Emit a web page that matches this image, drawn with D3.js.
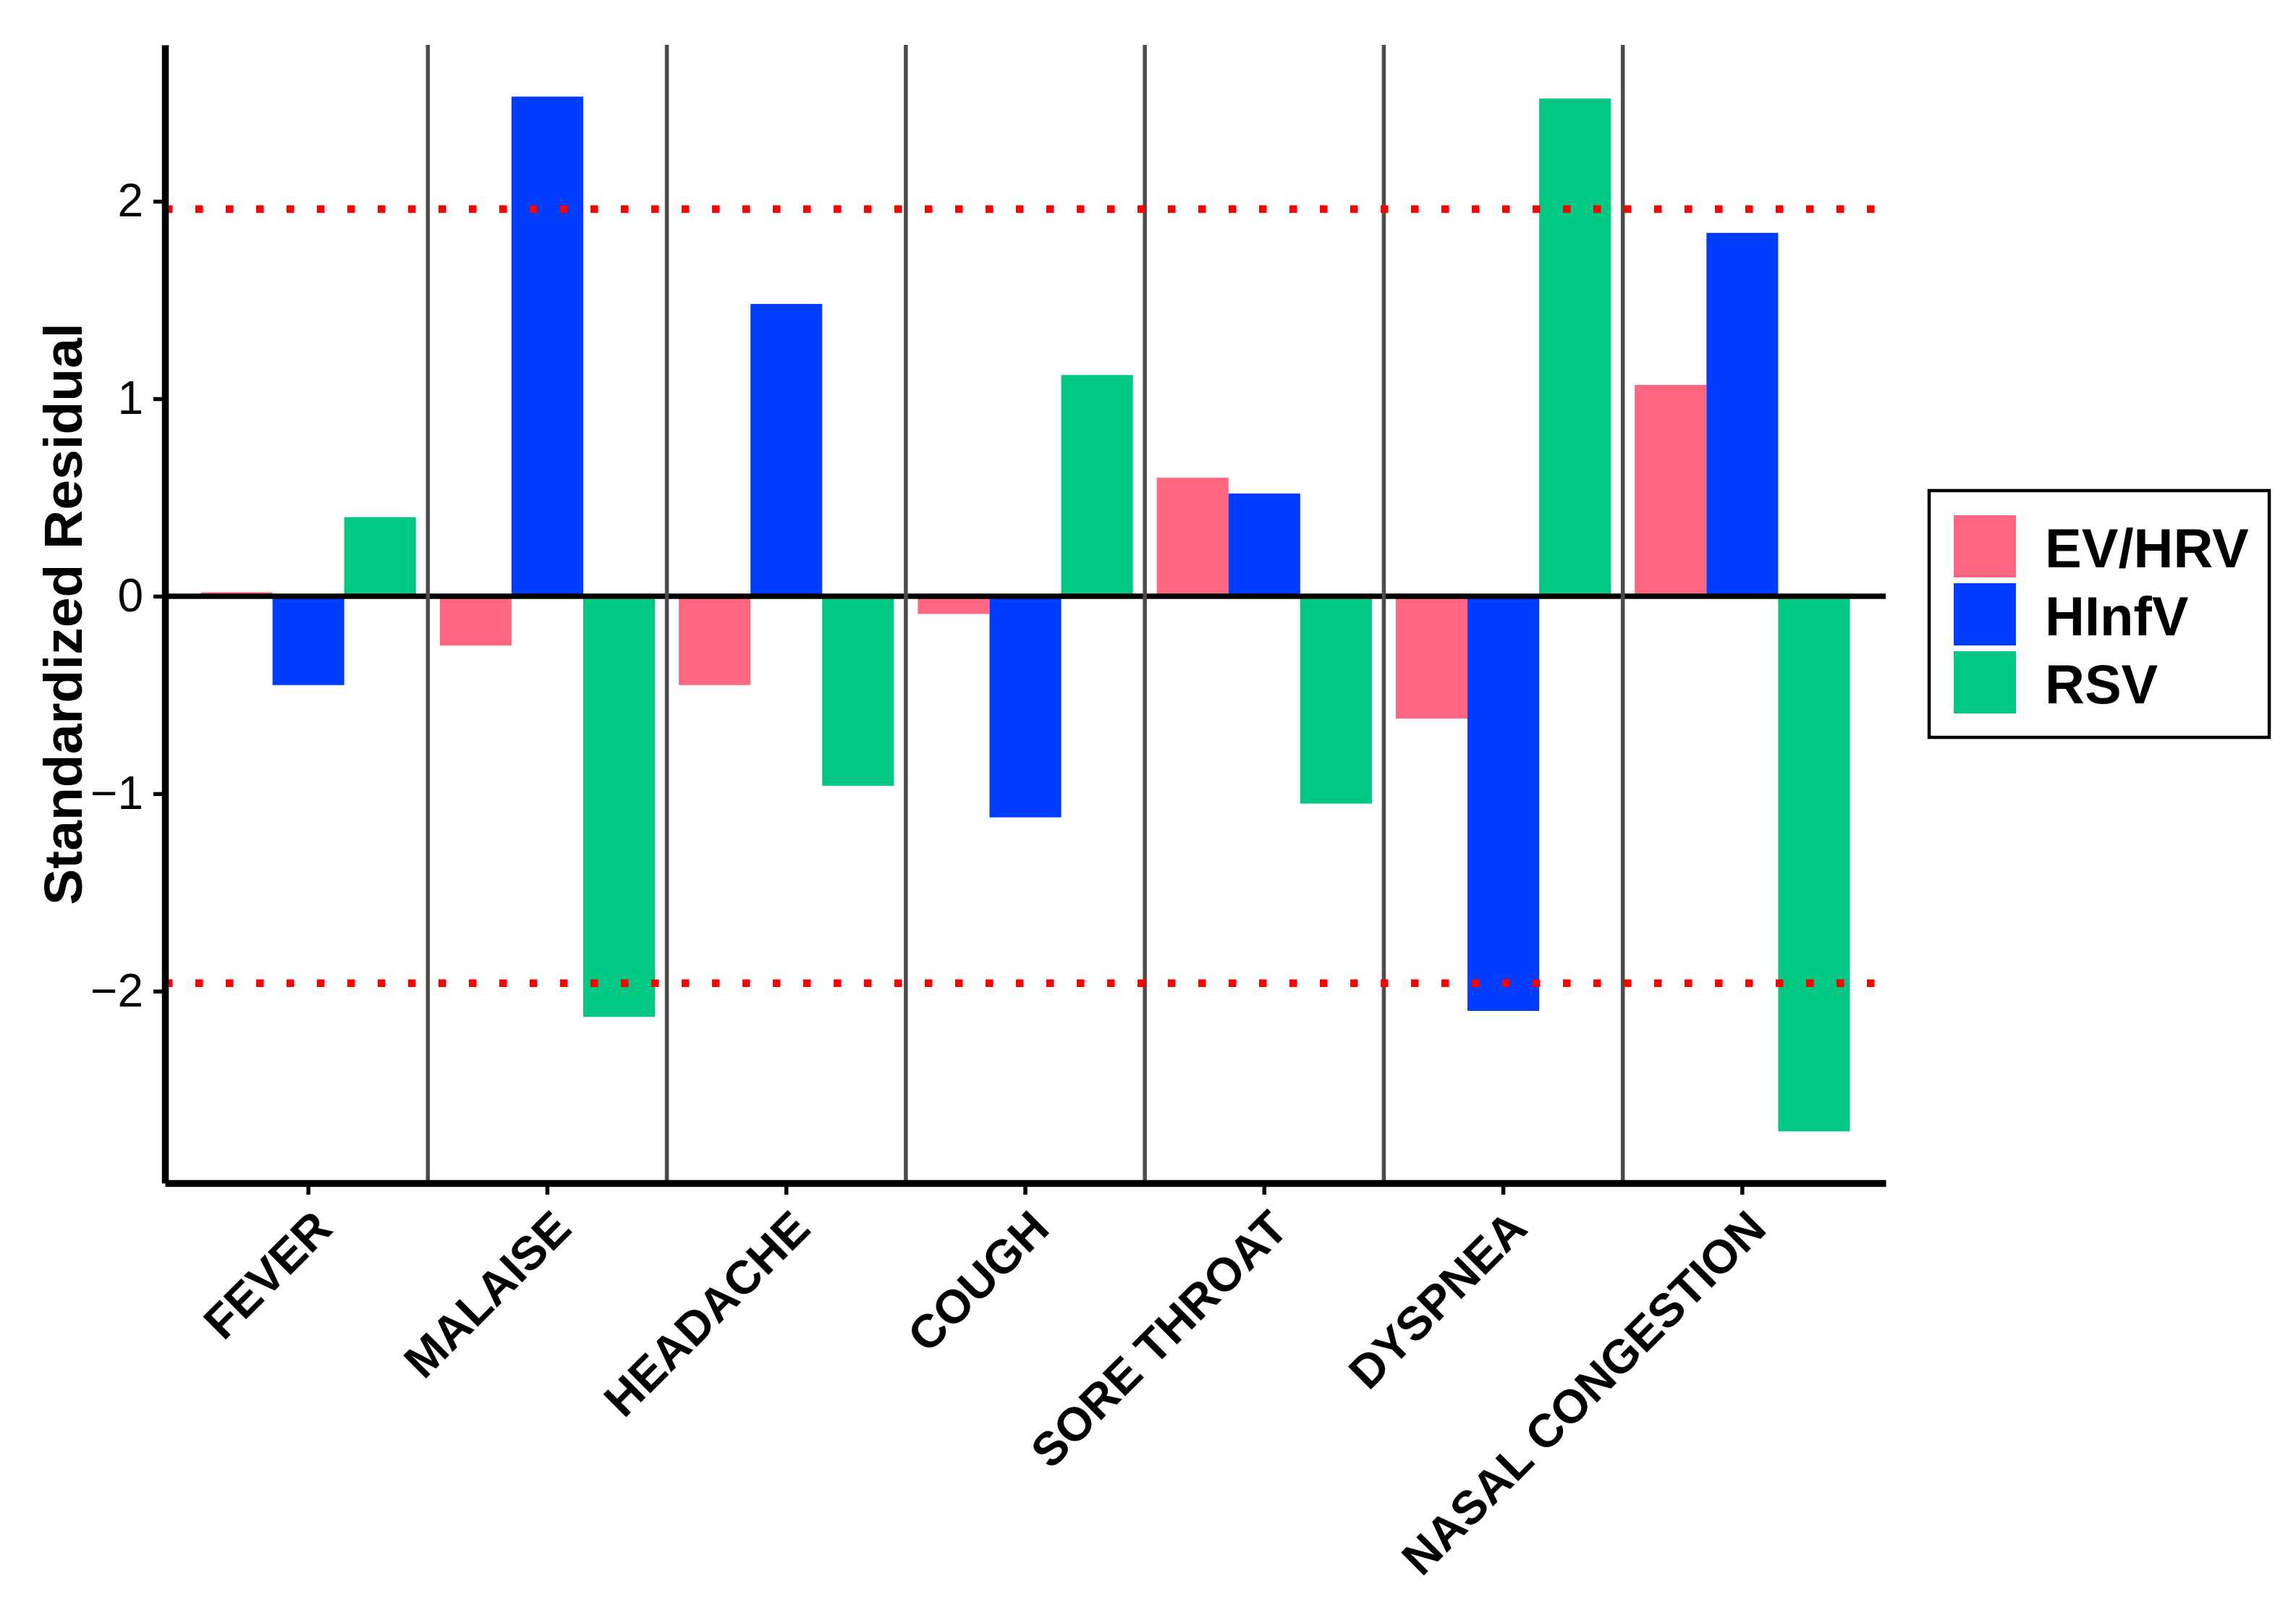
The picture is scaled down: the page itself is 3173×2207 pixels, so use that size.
<!DOCTYPE html>
<html>
<head>
<meta charset="utf-8">
<script src="https://cdn.jsdelivr.net/npm/d3@7"></script>
<style>
  body { margin: 0; background: #fff; }
  svg { display: block; }
  text { font-family: "Liberation Sans", Arial, sans-serif; }
</style>
</head>
<body>
<div id="chart-area"></div>
<script>
// SVG size
let width = 3173,
	height = 2207;

// data
let categories = ["FEVER", "MALAISE", "HEADACHE", "COUGH", "SORE THROAT", "DYSPNEA", "NASAL CONGESTION"];
let series = ["EV/HRV", "HInfV", "RSV"];
let evhrv = [0.02, -0.25, -0.45, -0.09, 0.60, -0.62, 1.07];
let hinfv = [-0.45, 2.53, 1.48, -1.12, 0.52, -2.10, 1.84];
let rsv   = [0.40, -2.13, -0.96, 1.12, -1.05, 2.52, -2.71];
let yTicks = [-2, -1, 0, 1, 2];
let thresholds = [1.96, -1.96];
let colors = ["#FF6682", "#003DFF", "#00C882"];

// plot panel
let panelLeft = 228, panelRight = 2606, panelTop = 62, panelBottom = 1635;

let values = [evhrv, hinfv, rsv];
let rows = [];
categories.forEach((c, i) => {
	series.forEach((s, j) => {
		rows.push({ cat: c, series: s, value: values[j][i] });
	});
});

drawChart(rows);

function drawChart(data) {
	let svg = d3.select("#chart-area").append("svg").attr("width", width).attr("height", height);

	// x: discrete, ggplot-like expansion (0.6 of a step on each side)
	let x = d3.scaleBand().domain(categories).range([panelLeft, panelRight]).paddingInner(0).paddingOuter(0.1);
	let bw = x.bandwidth();
	let xSub = d3.scaleBand().domain(series).range([0.05 * bw, 0.95 * bw]);

	// y: data range + 5% on each side (bars include 0)
	let ext = d3.extent(data.map(d => d.value).concat([0]));
	let span = ext[1] - ext[0];
	let y = d3.scaleLinear().domain([ext[0] - 0.05 * span, ext[1] + 0.05 * span]).range([panelBottom, panelTop]);

	let color = d3.scaleOrdinal().domain(series).range(colors);

	// bars
	svg.append("g").selectAll("rect")
		.data(data)
		.enter()
		.append("rect")
		.attr("x", d => x(d.cat) + xSub(d.series))
		.attr("width", xSub.bandwidth())
		.attr("y", d => y(Math.max(0, d.value)))
		.attr("height", d => Math.abs(y(d.value) - y(0)))
		.attr("fill", d => color(d.series));

	// zero line
	svg.append("line")
		.attr("x1", panelLeft).attr("x2", panelRight)
		.attr("y1", y(0)).attr("y2", y(0))
		.attr("stroke", "black")
		.attr("stroke-width", 7.5);

	// separators between symptoms
	svg.append("g").selectAll("line")
		.data(categories.slice(1))
		.enter()
		.append("line")
		.attr("x1", d => x(d)).attr("x2", d => x(d))
		.attr("y1", panelTop).attr("y2", panelBottom)
		.attr("stroke", "#4D4A48")
		.attr("stroke-width", 5.5);

	// +/- 1.96 dotted lines
	svg.append("g").selectAll("line")
		.data(thresholds)
		.enter()
		.append("line")
		.attr("x1", panelLeft).attr("x2", panelRight)
		.attr("y1", d => y(d)).attr("y2", d => y(d))
		.attr("stroke", "red")
		.attr("stroke-width", 10.5)
		.attr("stroke-dasharray", "10.5 31.5");

	// axes
	let yAxis = d3.axisLeft(y).tickValues(yTicks).tickFormat(d3.format("d"))
		.tickSize(16).tickSizeOuter(0).tickPadding(14);
	let xAxis = d3.axisBottom(x).tickSize(16).tickSizeOuter(0).tickFormat("");

	let gy = svg.append("g")
		.attr("class", "axis y-axis")
		.attr("transform", "translate(" + panelLeft + ",0)")
		.call(yAxis);
	gy.select(".domain").attr("stroke", "black").attr("stroke-width", 9.5);
	gy.selectAll(".tick line").attr("stroke", "black").attr("stroke-width", 5.5);
	gy.selectAll(".tick text")
		.attr("font-size", 64)
		.attr("fill", "black")
		.style("font-family", "'Liberation Sans', Arial, sans-serif");

	let gx = svg.append("g")
		.attr("class", "axis x-axis")
		.attr("transform", "translate(0," + panelBottom + ")")
		.call(xAxis);
	gx.select(".domain").attr("stroke", "black").attr("stroke-width", 9.5);
	gx.selectAll(".tick line").attr("stroke", "black").attr("stroke-width", 5.5);

	// rotated category labels
	svg.append("g").selectAll("text")
		.data(categories)
		.enter()
		.append("text")
		.attr("transform", d => "translate(" + (x(d) + bw / 2 + 3) + "," + 1668 + ") rotate(-45)")
		.attr("text-anchor", "end")
		.attr("dy", "0.72em")
		.attr("font-size", 65)
		.attr("font-weight", "bold")
		.attr("fill", "black")
		.text(d => d);

	// y axis title
	svg.append("text")
		.attr("transform", "translate(113," + ((panelTop + panelBottom) / 2) + ") rotate(-90)")
		.attr("text-anchor", "middle")
		.attr("font-size", 75)
		.attr("font-weight", "bold")
		.text("Standardized Residual");

	// legend
	let legend = svg.append("g").attr("transform", "translate(2666,678)");
	legend.append("rect")
		.attr("width", 470).attr("height", 341)
		.attr("fill", "white")
		.attr("stroke", "black")
		.attr("stroke-width", 4.5);

	let items = legend.selectAll(".item")
		.data(series)
		.enter()
		.append("g")
		.attr("class", "item")
		.attr("transform", (d, i) => "translate(34," + (34 + i * 94) + ")");
	items.append("rect")
		.attr("width", 86).attr("height", 86)
		.attr("fill", d => color(d));
	items.append("text")
		.attr("x", 126)
		.attr("y", 72)
		.attr("font-size", 76)
		.attr("font-weight", "bold")
		.text(d => d);
}
</script>
</body>
</html>
